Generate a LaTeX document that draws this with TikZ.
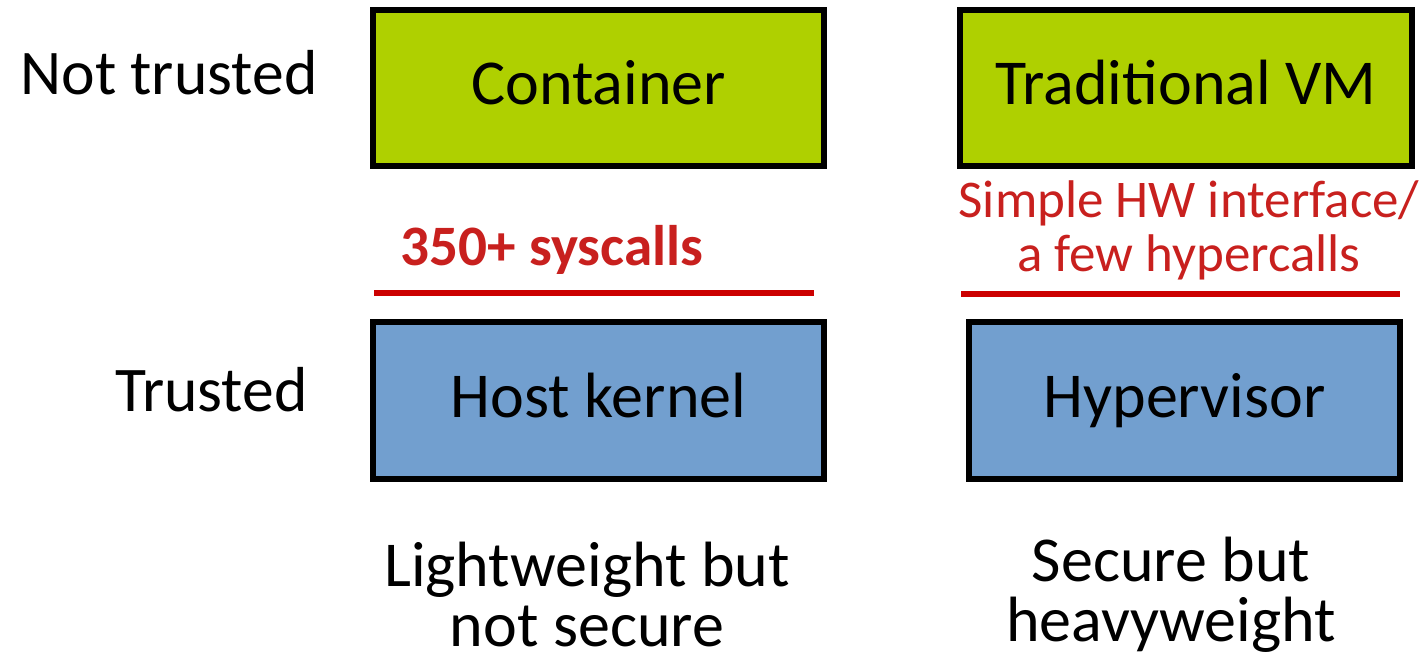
\documentclass[tikz,border=0pt]{standalone}
\usepackage{fontspec}
\setmainfont{Carlito}
\definecolor{boxgreen}{RGB}{175,208,0}
\definecolor{boxblue}{RGB}{114,159,207}
\definecolor{notered}{RGB}{200,32,30}
\definecolor{linered}{RGB}{204,0,0}
\begin{document}
\begin{tikzpicture}[x=0.5pt,y=-0.5pt,
  layer/.style={draw=black,line width=2.6pt,inner sep=0pt,
    text height=20.6pt,text depth=4pt,font=\fontsize{32}{38}\selectfont},
  untrusted/.style={layer,fill=boxgreen},
  trusted/.style={layer,fill=boxblue},
  boundary/.style={draw=linered,line width=2.6pt},
  sidelabel/.style={font=\fontsize{31.8}{36}\selectfont,inner sep=0pt},
  iface/.style={text=notered,inner sep=0pt,align=center},
  verdict/.style={font=\fontsize{32}{30}\selectfont,inner sep=0pt,align=center}]
\useasboundingbox (0,0) rectangle (1428,652);
% untrusted guests
\node[untrusted,minimum width=225.5pt,minimum height=78pt] (cont) at (598.5,88) {Container};
\node[untrusted,minimum width=226pt,minimum height=78pt] (vm) at (1186,88) {Traditional VM};
% trusted layers
\node[trusted,minimum width=225.5pt,minimum height=78.5pt] (host) at (598.5,400.5) {Host kernel};
\node[trusted,minimum width=215.5pt,minimum height=78.5pt] (hyp) at (1184.5,400.5) {Hypervisor};
% trust level labels
\node[sidelabel,anchor=west] (nt) at (20,73) {Not trusted};
\node[sidelabel,anchor=east] (tr) at (308,390) {Trusted};
% interface boundaries
\coordinate (b1l) at (374,293);
\coordinate (b1r) at (814,293);
\coordinate (b2l) at (961,294);
\coordinate (b2r) at (1400,294);
\draw[boundary] (b1l) -- (b1r);
\draw[boundary] (b2l) -- (b2r);
\node[iface,font=\bfseries\fontsize{28.6}{30}\selectfont] (sys) at (552,250) {350+ syscalls};
\node[iface,font=\fontsize{26.5}{27}\selectfont] (hc) at (1189,230) {Simple HW interface/\\a few hypercalls};
% summaries
\node[verdict] (lw) at (587,595) {Lightweight but\\not secure};
\node[verdict] (sb) at (1171,595) {Secure but\\heavyweight};
\end{tikzpicture}
\end{document}
